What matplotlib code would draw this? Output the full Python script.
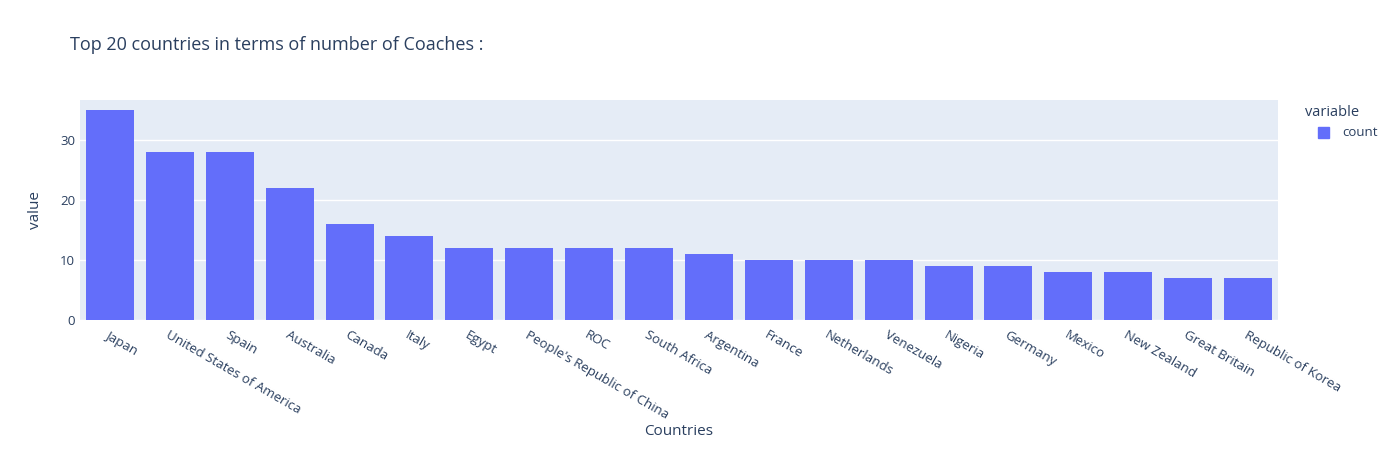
import matplotlib
matplotlib.use("Agg")
import matplotlib.pyplot as plt
from matplotlib.patches import Rectangle

countries = ["Japan", "United States of America", "Spain", "Australia", "Canada",
             "Italy", "Egypt", "People's Republic of China", "ROC", "South Africa",
             "Argentina", "France", "Netherlands", "Venezuela", "Nigeria",
             "Germany", "Mexico", "New Zealand", "Great Britain", "Republic of Korea"]
counts = [35, 28, 28, 22, 16, 14, 12, 12, 12, 12, 11, 10, 10, 10, 9, 9, 8, 8, 7, 7]

TXT = "#2a3f5f"
plt.rcParams["font.family"] = ["Open Sans", "DejaVu Sans"]

fig = plt.figure(figsize=(13.94, 4.5), dpi=100)
ax = fig.add_axes([80 / 1394, 130 / 450, 1198 / 1394, 220 / 450])
ax.set_facecolor("#E5ECF6")
x = range(len(countries))
ax.bar(x, counts, width=0.8, color="#636EFA", zorder=3)
ax.set_xlim(-0.5, len(countries) - 0.5)
ax.set_ylim(0, 36.67)
ax.set_yticks([0, 10, 20, 30])
ax.grid(axis="y", color="white", linewidth=1, zorder=0)
for s in ax.spines.values():
    s.set_visible(False)
ax.tick_params(length=0, colors=TXT, labelsize=9.5)
ax.set_xticks(list(x))
ax.set_xticklabels(countries, rotation=-30, ha="left", rotation_mode="anchor")
ax.tick_params(axis="x", pad=6)
ax.set_xlabel("Countries", color=TXT, fontsize=11, labelpad=2)
ax.set_ylabel("value", color=TXT, fontsize=11, labelpad=12)

fig.text(70 / 1394, 1 - 45 / 450, "Top 20 countries in terms of number of Coaches :",
         color=TXT, fontsize=13, va="center")
fig.text(1305 / 1394, 1 - 113 / 450, "variable", color=TXT, fontsize=10.5, va="center")
fig.patches.append(Rectangle((1318 / 1394, 1 - 138 / 450), 11 / 1394, 11 / 450,
                             transform=fig.transFigure, color="#636EFA"))
fig.text(1342 / 1394, 1 - 133 / 450, "count", color=TXT, fontsize=9.5, va="center")

fig.savefig("out.png", dpi=100)
